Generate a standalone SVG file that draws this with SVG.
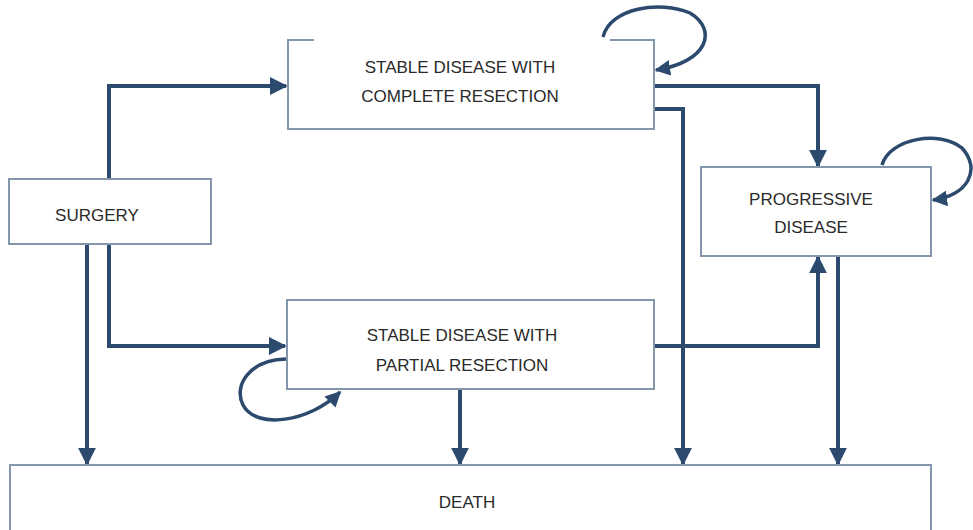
<svg xmlns="http://www.w3.org/2000/svg" width="973" height="530" viewBox="0 0 973 530">
<style>
.box{fill:#fff;stroke:#8496ac;stroke-width:2}
.edge{fill:none;stroke:#2c4a6e;stroke-width:4;stroke-linejoin:miter}
.loop{fill:none;stroke:#2c4a6e;stroke-width:3.5}
.lbl{font-family:"Liberation Sans",Arial,sans-serif;font-size:17px;fill:#2a2a2a;text-anchor:middle}
</style>
<defs>
<marker id="ah" viewBox="0 0 10 10" refX="9" refY="5" markerWidth="4.5" markerHeight="4.5" orient="auto" markerUnits="strokeWidth">
<path d="M0,0 L10,5 L0,10 z" fill="#2c4a6e"/>
</marker>
</defs>
<g id="connectors">
<path class="edge" d="M109,179 V86 H286" marker-end="url(#ah)"/>
<path class="edge" d="M109,244 V346 H285" marker-end="url(#ah)"/>
<path class="edge" d="M87,244 V464" marker-end="url(#ah)"/>
<path class="edge" d="M655,86 H818 V166" marker-end="url(#ah)"/>
<path class="edge" d="M655,109 H683 V464" marker-end="url(#ah)"/>
<path class="edge" d="M655,346 H818 V257" marker-end="url(#ah)"/>
<path class="edge" d="M460,390 V464" marker-end="url(#ah)"/>
<path class="edge" d="M838,256 V464" marker-end="url(#ah)"/>
<path class="loop" d="M603,37 C610,8 660,0 690,13 C718,30 708,62 656,70" marker-end="url(#ah)"/>
<path class="loop" d="M882,165 C890,138 940,130 962,148 C982,170 967,196 933,200" marker-end="url(#ah)"/>
<path class="loop" d="M286,359 C250,360 233,385 243,405 C256,430 310,422 340,392" marker-end="url(#ah)"/>
</g>
<g id="complete">
<path class="box" d="M314,40 H288 V129 H654 V40 H610" />
<rect x="289" y="41" width="364" height="87" fill="#fff"/>
<text class="lbl" x="460" y="73">STABLE DISEASE WITH</text>
<text class="lbl" x="460" y="102">COMPLETE RESECTION</text>
</g>
<g id="progressive">
<rect class="box" x="701" y="167" width="230" height="89"/>
<text class="lbl" x="811" y="205">PROGRESSIVE</text>
<text class="lbl" x="811" y="233">DISEASE</text>
</g>
<g id="surgery">
<rect class="box" x="9" y="179" width="202" height="65"/>
<text class="lbl" x="97" y="221">SURGERY</text>
</g>
<g id="partial">
<rect class="box" x="287" y="300" width="367" height="89"/>
<text class="lbl" x="462" y="341">STABLE DISEASE WITH</text>
<text class="lbl" x="462" y="371">PARTIAL RESECTION</text>
</g>
<g id="death">
<rect class="box" x="10" y="465" width="921" height="80"/>
<text class="lbl" x="467" y="508">DEATH</text>
</g>
</svg>
